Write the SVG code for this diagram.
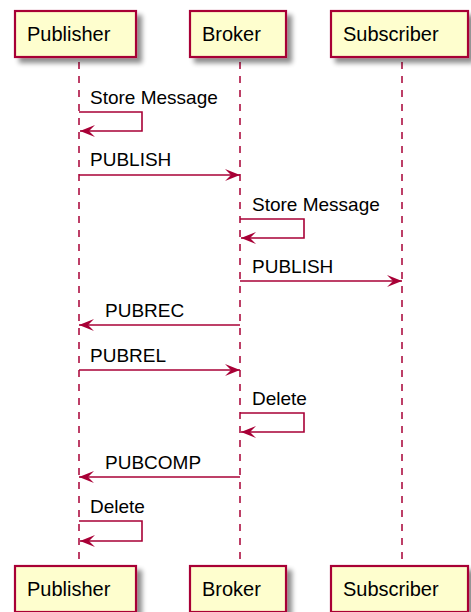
<svg xmlns="http://www.w3.org/2000/svg" width="471" height="612" viewBox="0 0 471 612">
<style>
.box{fill:#FEFECE;stroke:#A80036;stroke-width:2.2;filter:url(#sh)}
.pt{font-family:"Liberation Sans",Arial,sans-serif;font-size:20px;fill:#000}
.mt{font-family:"Liberation Sans",Arial,sans-serif;font-size:19px;fill:#000}
.life{stroke:#A80036;stroke-width:1.5;stroke-dasharray:7,7;fill:none}
.msg{stroke:#A80036;stroke-width:1.6;fill:none;marker-end:url(#ah)}
</style>
<defs>
<filter id="sh" x="-20%" y="-20%" width="150%" height="160%">
<feGaussianBlur in="SourceAlpha" stdDeviation="2.5"/>
<feOffset dx="5" dy="5" result="b"/>
<feComponentTransfer><feFuncA type="linear" slope="0.45"/></feComponentTransfer>
<feMerge><feMergeNode/><feMergeNode in="SourceGraphic"/></feMerge>
</filter>
<marker id="ah" viewBox="0 0 16 12" refX="15" refY="6" markerWidth="16" markerHeight="12" markerUnits="userSpaceOnUse" orient="auto">
<path d="M15,6 L0,0 L6,6 L0,12 Z" fill="#A80036"/>
</marker>
</defs>
<g id="lifelines">
<line class="life" x1="79" y1="62" x2="79" y2="565"/>
<line class="life" x1="240" y1="62" x2="240" y2="565"/>
<line class="life" x1="402" y1="62" x2="402" y2="565"/>
</g>
<g id="participant-publisher-top"><rect class="box" x="15" y="11" width="121" height="46"/><text class="pt" x="27" y="41">Publisher</text></g>
<g id="participant-broker-top"><rect class="box" x="190" y="11" width="96" height="46"/><text class="pt" x="202" y="41">Broker</text></g>
<g id="participant-subscriber-top"><rect class="box" x="331" y="11" width="137" height="46"/><text class="pt" x="343" y="41">Subscriber</text></g>
<g id="participant-publisher-bottom"><rect class="box" x="15" y="566" width="121" height="46"/><text class="pt" x="27" y="596">Publisher</text></g>
<g id="participant-broker-bottom"><rect class="box" x="190" y="566" width="96" height="46"/><text class="pt" x="202" y="596">Broker</text></g>
<g id="participant-subscriber-bottom"><rect class="box" x="331" y="566" width="137" height="46"/><text class="pt" x="343" y="596">Subscriber</text></g>
<g id="connectors">
<path class="msg" d="M79,112 H142 V131 H80"/>
<text class="mt" x="90" y="104">Store Message</text>
<path class="msg" d="M79,175 H240"/>
<text class="mt" x="90" y="166">PUBLISH</text>
<path class="msg" d="M240,219 H304 V238 H241"/>
<text class="mt" x="252" y="211">Store Message</text>
<path class="msg" d="M240,281 H402"/>
<text class="mt" x="252" y="273">PUBLISH</text>
<path class="msg" d="M240,325 H79"/>
<text class="mt" x="105" y="317">PUBREC</text>
<path class="msg" d="M79,370 H240"/>
<text class="mt" x="90" y="362">PUBREL</text>
<path class="msg" d="M240,413 H304 V432 H241"/>
<text class="mt" x="252" y="405">Delete</text>
<path class="msg" d="M240,477 H79"/>
<text class="mt" x="105" y="469">PUBCOMP</text>
<path class="msg" d="M79,521 H142 V541 H80"/>
<text class="mt" x="90" y="513">Delete</text>
</g>
</svg>
